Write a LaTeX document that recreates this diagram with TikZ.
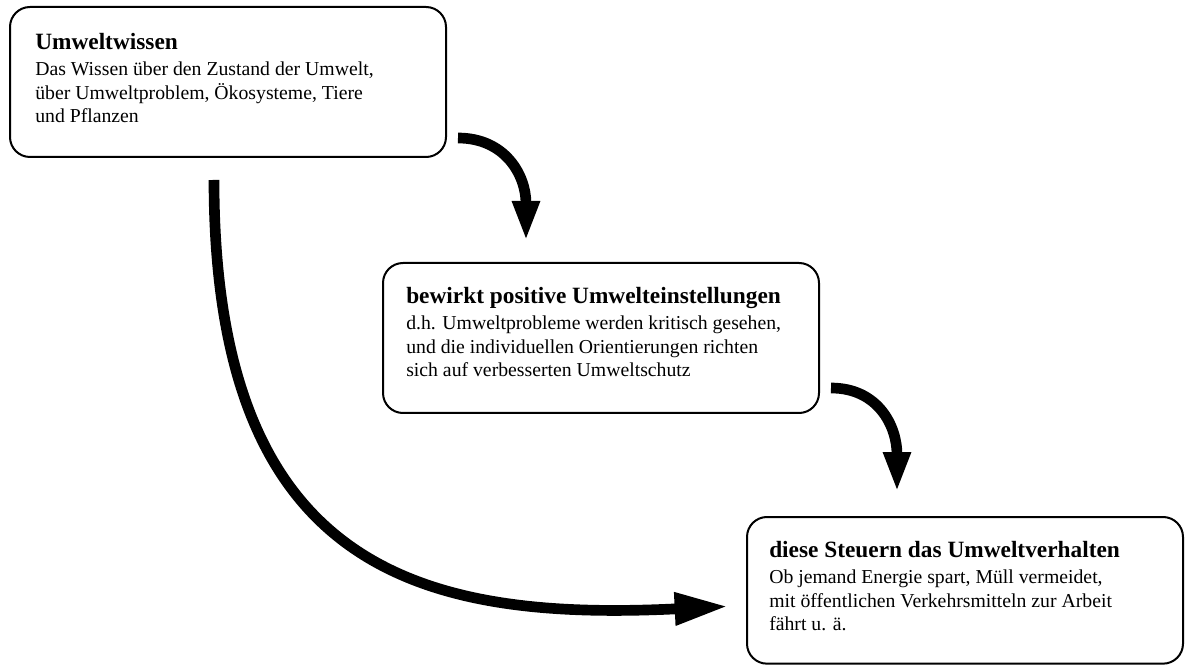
\documentclass[tikz,border=0pt]{standalone}
\usepackage{fontspec}
\setmainfont{Liberation Serif}
\usepackage{tikz}
\usetikzlibrary{arrows.meta,positioning}

\begin{document}
\begin{tikzpicture}[x=0.75pt,y=-0.75pt,
  box/.style={draw, line width=1.5pt, rounded corners=15pt, inner sep=0pt,
    outer sep=0pt, minimum width=327pt, minimum height=112.5pt, anchor=north west},
  txt/.style={anchor=north west, inner sep=0pt, align=left,
    font=\fontsize{14.8}{17.6}\selectfont},
  flow/.style={line width=8pt, -{Triangle[length=30pt,width=19pt]}},
  bigflow/.style={line width=8pt, -{Triangle[length=40pt,width=23pt]}}]

  \useasboundingbox (0,0) rectangle (1185,666);

  % Boxes
  \node[box] (wissen) at (10,7) {};
  \node[box] (einst) at (383,263) {};
  \node[box, minimum height=110pt] (verh) at (747,517) {};

  % Texts
  \node[txt] (wissenT) at ([shift={(25,26)}]wissen.north west)
    {{\fontsize{17.5}{19}\bfseries Umweltwissen}\\[2pt]
     Das Wissen über den Zustand der Umwelt,\\
     über Umweltproblem, Ökosysteme, Tiere\\
     und Pflanzen};
  \node[txt] (einstT) at ([shift={(23,24)}]einst.north west)
    {{\fontsize{17.5}{19}\bfseries bewirkt positive Umwelteinstellungen}\\[2pt]
     d.h. Umweltprobleme werden kritisch gesehen,\\
     und die individuellen Orientierungen richten\\
     sich auf verbesserten Umweltschutz};
  \node[txt] (verhT) at ([shift={(22,24)}]verh.north west)
    {{\fontsize{17.5}{19}\bfseries diese Steuern das Umweltverhalten}\\[2pt]
     Ob jemand Energie spart, Müll vermeidet,\\
     mit öffentlichen Verkehrsmitteln zur Arbeit\\
     fährt u. ä.};

  % Arrow ends
  \coordinate (a1) at ([shift={(12,-19)}]wissen.south east);
  \coordinate (b1) at ([shift={(143,-22)}]einst.north west);
  \coordinate (a2) at ([shift={(12,-25)}]einst.south east);
  \coordinate (b2) at ([shift={(150,-25)}]verh.north west);
  \coordinate (a3) at ([shift={(204,23)}]wissen.south west);
  \coordinate (b3) at ([shift={(-19,16)}]verh.west);

  % Arrows
  \draw[flow] (a1) .. controls ([shift={(47,0)}]a1) and ([shift={(0,-66)}]b1) .. (b1);
  \draw[flow] (a2) .. controls ([shift={(47,0)}]a2) and ([shift={(0,-66)}]b2) .. (b2);
  \draw[bigflow] (a3) .. controls ([shift={(0,390)}]a3) and ([shift={(-308,15)}]b3) .. (b3);

\end{tikzpicture}
\end{document}
